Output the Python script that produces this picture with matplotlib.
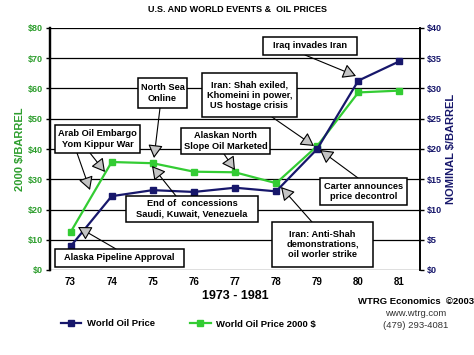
import matplotlib
matplotlib.use("Agg")
import matplotlib.pyplot as plt
from matplotlib.patches import Rectangle, FancyArrowPatch

plt.rcParams['font.family'] = ['Liberation Sans', 'DejaVu Sans']

years = ["73", "74", "75", "76", "77", "78", "79", "80", "81"]
nominal = [3.9, 12.2, 13.2, 12.9, 13.6, 13.0, 20.0, 31.3, 34.5]
real2000 = [12.5, 35.7, 35.3, 32.5, 32.3, 28.7, 41.0, 58.7, 59.3]
left_ticks = [0, 10, 20, 30, 40, 50, 60, 70, 80]
right_ticks = [0, 5, 10, 15, 20, 25, 30, 35, 40]

NAVY = '#17176b'
GREEN = '#33cc33'
GREEN_TXT = '#2e9e2e'

W, H = 474, 355
fig = plt.figure(figsize=(W / 100, H / 100), dpi=100)
ax = fig.add_axes([50 / W, 1 - 270 / H, 370 / W, 242 / H])
ax2 = ax.twinx()

x = list(range(len(years)))
ax.set_xlim(-0.5, len(years) - 0.5)
ax.set_ylim(0, 80)
ax2.set_ylim(0, 40)

for v in left_ticks:
    ax.axhline(v, color='black', lw=0.9, zorder=1)

ax2.plot(x, nominal, color=NAVY, lw=1.6, marker='s', ms=4.5, zorder=4,
         label='World Oil Price')
ax.plot(x, real2000, color=GREEN, lw=1.6, marker='s', ms=4.5, zorder=3,
        label='World Oil Price 2000 $')

ax.set_yticks(left_ticks)
ax.set_yticklabels([f"${v}" for v in left_ticks], color=GREEN_TXT,
                   fontsize=6.5, fontweight='bold')
ax2.set_yticks(right_ticks)
ax2.set_yticklabels([f"${v}" for v in right_ticks], color=NAVY,
                    fontsize=6.5, fontweight='bold')
ax.set_xticks(x)
ax.set_xticklabels(years, fontsize=7, fontweight='bold')
ax.tick_params(axis='x', length=0, pad=5)
ax.tick_params(axis='y', length=3, width=1, pad=2)
ax2.tick_params(axis='y', length=3, width=1, pad=2)
for a in (ax, ax2):
    for s in a.spines.values():
        s.set_color('black')
    a.spines['left'].set_linewidth(1.6)
    a.spines['right'].set_linewidth(1.2)
    a.spines['top'].set_visible(False)
    a.spines['bottom'].set_visible(False)

ax.set_xlabel("1973 - 1981", fontsize=9, fontweight='bold', labelpad=2)
ax.set_ylabel("2000 $/BARREL", fontsize=8, fontweight='bold', color=GREEN_TXT,
              labelpad=2)
ax2.set_ylabel("NOMINAL $/BARREL", fontsize=8, fontweight='bold', color=NAVY,
               labelpad=3)

fig.text(237 / W, 1 - 10 / H, "U.S. AND WORLD EVENTS &  OIL PRICES",
         ha='center', va='center', fontsize=6.5, fontweight='bold')


def P(px, py):
    return (px / W, 1 - py / H)


def label(txt, x0, y0, x1, y1):
    fig.add_artist(Rectangle(P(x0, y1), (x1 - x0) / W, (y1 - y0) / H,
                             transform=fig.transFigure, fc='white', ec='black',
                             lw=1.1, zorder=6))
    fig.text((x0 + x1) / 2 / W, 1 - (y0 + y1) / 2 / H, txt, ha='center',
             va='center', fontsize=6.7, fontweight='bold', zorder=7,
             linespacing=1.15)


def arrow(tail, tip):
    fig.add_artist(FancyArrowPatch(
        P(*tail), P(*tip), transform=fig.transFigure,
        arrowstyle='-|>,head_length=8,head_width=4.5',
        fc='#c4c4c4', ec='black', lw=0.8, shrinkA=0, shrinkB=0, zorder=5))


label("Iraq invades Iran", 263, 37, 357, 55)
arrow((305, 55), (356, 76))
label("North Sea\nOnline", 138, 78, 187, 108)
arrow((160, 108), (154, 158))
label("Iran: Shah exiled,\nKhomeini in power,\nUS hostage crisis", 202, 73, 297, 117)
arrow((272, 117), (314, 146))
label("Arab Oil Embargo\nYom Kippur War", 55, 125, 140, 153)
arrow((77, 153), (90, 190))
arrow((90, 153), (105, 172))
label("Alaskan North\nSlope Oil Marketed", 181, 128, 270, 154)
arrow((224, 154), (235, 170))
label("Carter announces\nprice decontrol", 320, 178, 407, 205)
arrow((358, 178), (320, 150))
label("End of  concessions\nSaudi, Kuwait, Venezuela", 126, 196, 258, 222)
arrow((176, 196), (152, 166))
label("Iran: Anti-Shah\ndemonstrations,\noil worler strike", 272, 222, 373, 267)
arrow((312, 222), (281, 187))
label("Alaska Pipeline Approval", 55, 249, 184, 267)
arrow((116, 249), (78, 227))

h1, l1 = ax2.get_legend_handles_labels()
h2, l2 = ax.get_legend_handles_labels()
fig.legend(h1 + h2, l1 + l2, loc='center left', bbox_to_anchor=(52 / W, 1 - 324 / H),
           ncol=2, frameon=False, prop=dict(size=6.8, weight='bold'),
           handlelength=2.2, columnspacing=3.7, handletextpad=0.6)

fig.text(416 / W, 1 - 301 / H, "WTRG Economics  ©2003", ha='center', va='center',
         fontsize=6.8, fontweight='bold')
fig.text(416 / W, 1 - 313 / H, "www.wtrg.com", ha='center', va='center',
         fontsize=6.8, color='#333333')
fig.text(416 / W, 1 - 325 / H, "(479) 293-4081", ha='center', va='center',
         fontsize=6.8, color='#333333')

fig.savefig("out.png", dpi=100)
